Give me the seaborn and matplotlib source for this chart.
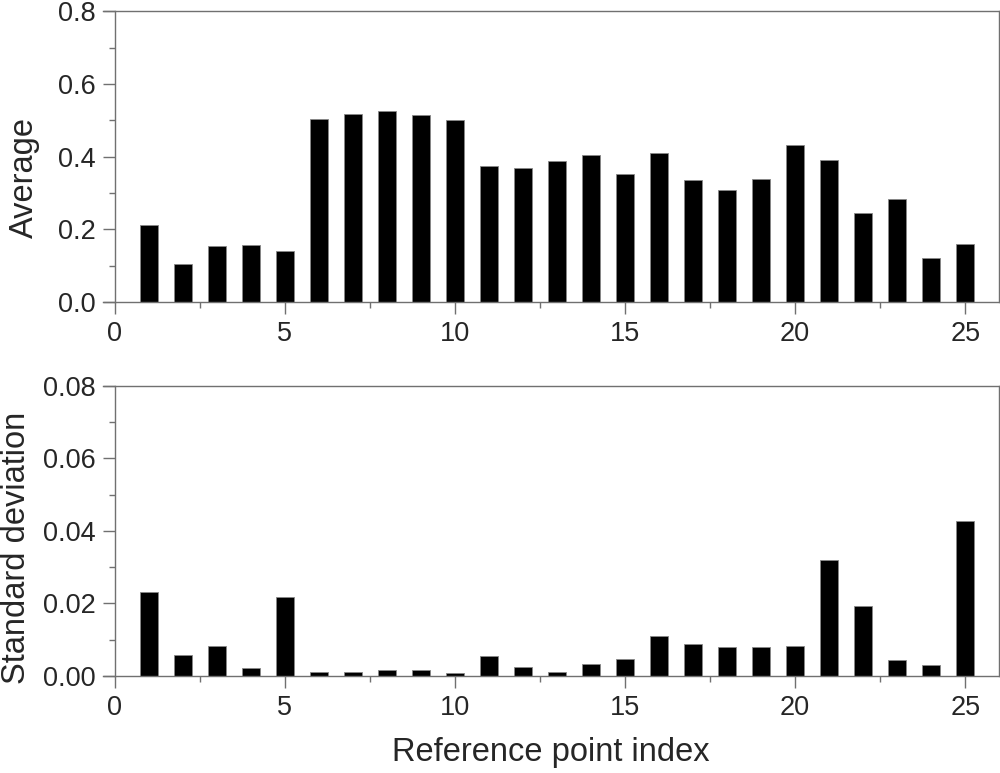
import numpy as np
import pandas as pd
import matplotlib
matplotlib.use("Agg")
import matplotlib.pyplot as plt
from matplotlib.ticker import MultipleLocator, FormatStrFormatter
import seaborn as sns

# values
point_index = list(range(1, 26))
average = [0.211, 0.104, 0.153, 0.157, 0.141, 0.503, 0.518, 0.525, 0.514, 0.502,
           0.375, 0.370, 0.388, 0.405, 0.352, 0.410, 0.337, 0.309, 0.338, 0.431,
           0.392, 0.244, 0.284, 0.120, 0.159]
std_dev = [0.0231, 0.0057, 0.0083, 0.0021, 0.0217, 0.0010, 0.0011, 0.0017, 0.0017, 0.0008,
           0.0056, 0.0024, 0.0010, 0.0033, 0.0047, 0.0111, 0.0087, 0.0081, 0.0080, 0.0083,
           0.0319, 0.0194, 0.0044, 0.0029, 0.0427]

sns.set_style("ticks")
plt.rcParams['font.family'] = ['Liberation Sans', 'DejaVu Sans']

df = pd.DataFrame({'idx': point_index, 'avg': average, 'std': std_dev})

fig = plt.figure(figsize=(10, 7.73), dpi=100)
ax1 = fig.add_axes([0.103, 0.6093, 0.8963, 0.3761])
ax2 = fig.add_axes([0.103, 0.1255, 0.8963, 0.3755])

spine_col = '#707070'

panels = [
    (ax1, 'avg', 'Average', 0.8, 0.2, 0.1, '%.1f', (-0.070, 0.427)),
    (ax2, 'std', 'Standard deviation', 0.08, 0.02, 0.01, '%.2f', (-0.079, 0.44)),
]

for ax, col, label, ymax, major, minor, fmt, lab_pos in panels:
    sns.barplot(data=df, x='idx', y=col, native_scale=True, width=0.53,
                color='black', saturation=1, edgecolor='#888888', linewidth=0.6, ax=ax)
    ax.set_xlim(-0.34, 26)
    ax.set_ylim(0, ymax)
    ax.spines['left'].set_position(('data', 0))
    for s in ax.spines.values():
        s.set_color(spine_col)
        s.set_linewidth(1.0)
    ax.xaxis.set_major_locator(MultipleLocator(5))
    ax.xaxis.set_minor_locator(MultipleLocator(2.5))
    ax.yaxis.set_major_locator(MultipleLocator(major))
    ax.yaxis.set_minor_locator(MultipleLocator(minor))
    ax.yaxis.set_major_formatter(FormatStrFormatter(fmt))
    ax.tick_params(which='major', direction='out', length=8.4, width=1.0,
                   color=spine_col, labelsize=19.5, pad=5)
    ax.tick_params(which='minor', direction='out', length=4.3, width=1.0,
                   color=spine_col)
    ax.tick_params(top=False, right=False, which='both')
    ax.set_xlabel('')
    ax.set_ylabel(label, fontsize=23.5)
    ax.yaxis.set_label_coords(*lab_pos)

ax2.set_xlabel('Reference point index', fontsize=23.5, labelpad=12)

fig.savefig('out.png', dpi=100)
